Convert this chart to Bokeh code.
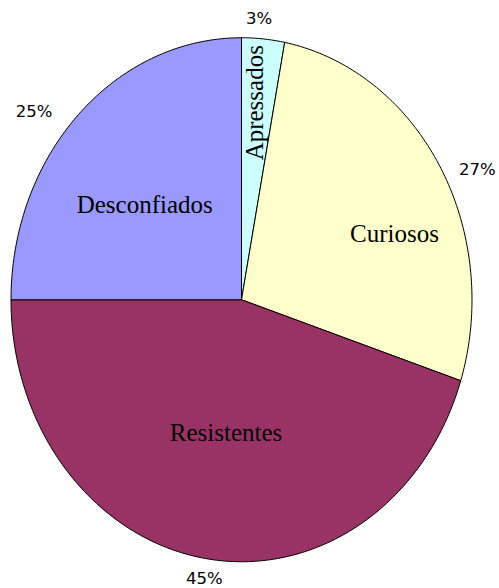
import numpy as np
from bokeh.plotting import figure
from bokeh.models import Range1d, ColumnDataSource
from bokeh.embed import file_html
from bokeh.resources import INLINE
from bokeh.core.properties import value

# ---- data ----
categories = ["Apressados", "Curiosos", "Resistentes", "Desconfiados"]
percentages = [3, 27, 45, 25]
pct_labels = ["3%", "27%", "45%", "25%"]

# ---- style ----
colors = ["#ccffff", "#ffffcc", "#993366", "#9999ff"]
W, H = 499, 588
CX, CY = 241.0, 588 - 299.25   # pie centre in figure px (y up)
RX, RY = 230.5, 262.0           # ellipse radii in px
# inner-label anchors as fractions of the radii (relative to the centre)
name_pos = [(0.056, 0.752), (0.664, 0.254), (-0.067, -0.508), (-0.42, 0.363)]
name_angle = [np.pi / 2, 0, 0, 0]

frac = np.array(percentages, dtype=float) / sum(percentages)
ends = np.cumsum(frac) * 2 * np.pi
starts = ends - frac * 2 * np.pi
mids = (starts + ends) / 2

xs, ys = [], []
for a0, a1 in zip(starts, ends):
    t = np.linspace(a0, a1, max(int((a1 - a0) / (2 * np.pi) * 360), 4) + 1)
    xs.append([CX] + list(CX + RX * np.sin(t)) + [CX])
    ys.append([CY] + list(CY + RY * np.cos(t)) + [CY])

p = figure(width=W, height=H, x_range=Range1d(0, W), y_range=Range1d(0, H),
           output_backend="svg", toolbar_location=None, min_border=0,
           outline_line_color=None)
p.axis.visible = False
p.grid.visible = False
p.background_fill_color = "white"
p.border_fill_color = "white"

src = ColumnDataSource(dict(xs=xs, ys=ys, color=colors, name=categories))
p.patches("xs", "ys", source=src, fill_color="color", line_color="#000000",
          line_width=1)

# category names inside the slices
nx = [CX + u * RX for u, v in name_pos]
ny = [CY + v * RY for u, v in name_pos]
p.text(x=nx, y=ny, text=categories, angle=name_angle,
       text_font=value("Liberation Serif"), text_font_size="25px",
       text_align="center", text_baseline="middle", text_color="black")

# percentage labels outside
lx, ly, la = [], [], []
for m in mids:
    ex, ey = CX + RX * np.sin(m), CY + RY * np.cos(m)
    s, c = np.sin(m), np.cos(m)
    if abs(s) > 0.6:
        lx.append(ex + (19 if s > 0 else -26))
        ly.append(ey - np.sign(s) * 3)
        la.append("left" if s > 0 else "right")
    else:
        lx.append(ex + (-4 if c > 0 else -1))
        ly.append(ey + np.sign(c) * 20)
        la.append("center")
p.text(x=lx, y=ly, text=pct_labels, text_align=la,
       text_font=value("DejaVu Sans"), text_font_size="16.5px",
       text_baseline="middle", text_color="black")

open("out.html", "w").write(file_html(p, INLINE))
